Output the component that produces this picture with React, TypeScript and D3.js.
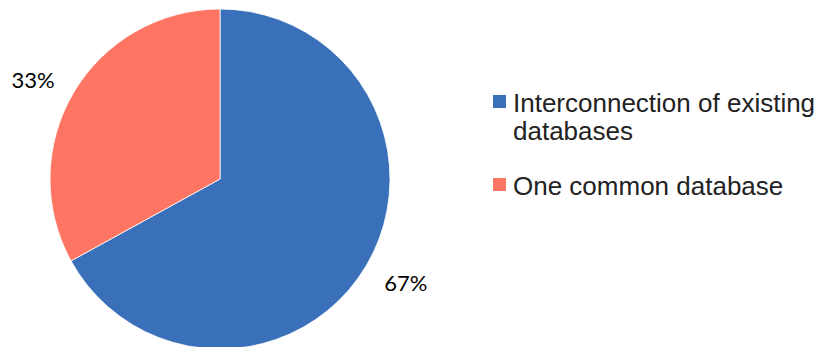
import React from "react";
import * as d3 from "d3";

const categories = ["Interconnection of existing databases", "One common database"];
const values = [67, 33];
const legendLines = [["Interconnection of existing", "databases"], ["One common database"]];
const colors = ["#3A70BA", "#FF7563"];

export default function App() {
  const W = 825, H = 347;
  const cx = 220, cy = 179, R = 170;
  const pie = d3.pie<number>().sort(null).value((d) => d)(values);
  const arc = d3.arc<d3.PieArcDatum<number>>().innerRadius(0).outerRadius(R);
  const lab = d3.arc<d3.PieArcDatum<number>>().innerRadius(192).outerRadius(192);
  const total = d3.sum(values);
  return (
    <svg width={W} height={H} style={{ position: "absolute", left: 0, top: 0, background: "#fff" }}>
      <g transform={`translate(${cx},${cy})`}>
        {pie.map((p, i) => (
          <path key={i} d={arc(p) || ""} fill={colors[i]} stroke="#fff" strokeWidth={0.8} />
        ))}
        {pie.map((p, i) => {
          const [x, y] = lab.centroid(p);
          const right = x > 0;
          return (
            <text key={i} x={x + (right ? -1 : 0)} y={y + (right ? 6 : -2)} textAnchor={right ? "start" : "end"}
              dominantBaseline="central" fontFamily="Lato, 'Open Sans', sans-serif" fontSize={22} fill="#000">
              {Math.round((values[i] / total) * 100)}%
            </text>
          );
        })}
      </g>
      {categories.map((c, i) => {
        const y0 = i === 0 ? 95 : 178;
        return (
          <g key={c}>
            <rect x={493} y={y0} width={13} height={13} fill={colors[i]} />
            {legendLines[i].map((l, j) => (
              <text key={j} x={513} y={y0 + 17 + j * 28} fontFamily="'Liberation Sans', Arial, sans-serif" fontSize={26} fill="#222">
                {l}
              </text>
            ))}
          </g>
        );
      })}
    </svg>
  );
}
